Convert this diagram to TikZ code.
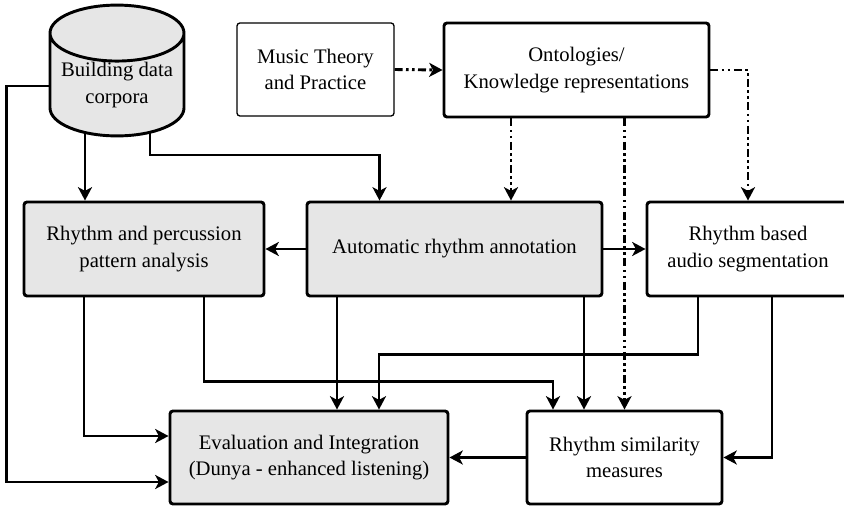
\documentclass[tikz,border=0pt]{standalone}
\usepackage{fontspec}
\setmainfont{Liberation Serif}
\usetikzlibrary{shapes.geometric,arrows.meta,calc,backgrounds}
\definecolor{boxgray}{HTML}{E6E6E6}

\begin{document}
\begin{tikzpicture}[x=0.75pt,y=-0.75pt,
  font=\fontsize{15.5}{20}\selectfont,
  box/.style={draw, line width=2.2pt, rounded corners=2.25pt, align=center, inner sep=0pt, minimum height=70.5pt},
  task/.style={box, fill=boxgray},
  flow/.style={line width=2.2pt, -{Stealth[length=10pt,width=10.5pt,inset=2.75pt]}},
  know/.style={flow, dash pattern=on 6pt off 2.5pt on 2pt off 2.5pt on 2pt off 2.5pt}]
\useasboundingbox (0,0) rectangle (844,507);

\node[cylinder, shape border rotate=90, aspect=0.5, draw, line width=2.2pt, fill=boxgray, align=center, inner sep=0pt, minimum width=100.5pt, minimum height=92pt, anchor=shape center] (corpora) at (117,70.5) {Building data\\corpora};
\node[box, line width=1pt, minimum width=117.75pt, minimum height=69.75pt] (theory) at (315.5,69.5) {Music Theory\\and Practice};
\node[box, minimum width=198.75pt] (onto) at (576.5,70) {Ontologies/\\Knowledge representations};
\node[task, minimum width=180pt] (pattern) at (144,249) {Rhythm and percussion\\pattern analysis};
\node[task, minimum width=221.25pt] (annot) at (454.5,249) {Automatic rhythm annotation};
\node[box, minimum width=151.5pt] (seg) at (748,249) {Rhythm based\\audio segmentation};
\node[task, minimum width=208.5pt, minimum height=69.75pt] (eval) at (309,457.5) {Evaluation and Integration\\(Dunya - enhanced listening)};
\node[box, minimum width=146.25pt, minimum height=69.75pt] (simil) at (624.5,457.5) {Rhythm similarity\\measures};

% corpora feeds
\begin{pgfonlayer}{background}
\draw[flow] ($(corpora.shape center)+(-32,0)$) coordinate (c1) -- (c1 |- pattern.north);
\draw[flow] ($(corpora.shape center)+(33,0)$) -- ($(corpora.shape center)+(33,84.5)$) -| ($(annot.north)+(-75,0)$);
\draw[flow] ($(corpora.shape center)+(0,15.5)$) -| ($(eval.west)+(-162,24.5)$) -- ($(eval.west)+(0,24.5)$);
\end{pgfonlayer}

% analysis
\draw[flow] ($(pattern.south)+(-60,0)$) |- ($(eval.west)+(0,-21.5)$);
\draw[flow] ($(pattern.south)+(60,0)$) -- ($(pattern.south)+(60,84)$) -| ($(simil.north)+(-71.5,0)$);
\draw[flow] (annot.west) -- (pattern.east);
\draw[flow] (annot.east) -- (seg.west);
\draw[flow] ($(annot.south)+(-117.5,0)$) coordinate (a1) -- (a1 |- eval.north);
\draw[flow] ($(annot.south)+(129.5,0)$) coordinate (a2) -- (a2 |- simil.north);
\draw[flow] ($(seg.south)+(-50,0)$) -- ($(seg.south)+(-50,57)$) -| ($(eval.north)+(70,0)$);
\draw[flow] ($(seg.south)+(24,0)$) |- (simil.east);
\draw[flow] (simil.west) -- (eval.east);

% knowledge
\draw[know] (theory.east) -- (onto.west);
\draw[know] (onto.east) -| (seg.north);
\draw[know] ($(onto.south)+(-65.5,0)$) coordinate (o1) -- (o1 |- annot.north);
\draw[know] (onto.south -| simil.north) -- (simil.north);
\end{tikzpicture}
\end{document}
